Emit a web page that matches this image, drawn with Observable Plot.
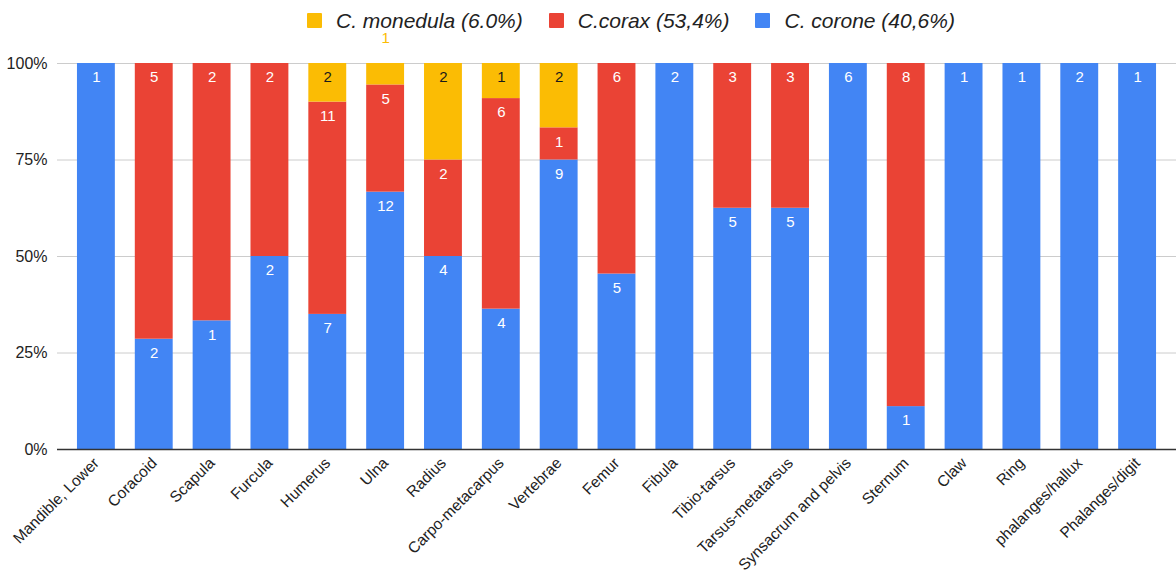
<!DOCTYPE html>
<html>
<head>
<meta charset="utf-8">
<script src="https://cdn.jsdelivr.net/npm/d3@7"></script>
<script src="https://cdn.jsdelivr.net/npm/@observablehq/plot@0.6"></script>
<style>
  html, body { margin: 0; padding: 0; background: #fff; }
  body { width: 1176px; height: 575px; overflow: hidden; font-family: "Liberation Sans", Arial, sans-serif; }
  #legend {
    box-sizing: border-box; height: 30px; padding-top: 11px;
    display: flex; justify-content: flex-start; align-items: center;
    padding-left: 307px; line-height: 20px;
    font-size: 21px; font-style: italic; color: #222;
  }
  #legend .item { display: flex; align-items: center; margin-right: 26px; }
  #legend .sw { width: 15px; height: 15px; border-radius: 1px; margin-right: 14px; }
  #chart svg { display: block; }
</style>
</head>
<body>
<div id="legend"></div>
<div id="chart"></div>
<script>
// Skeletal elements, one bar each
const parts = [
  "Mandible, Lower", "Coracoid", "Scapula", "Furcula", "Humerus", "Ulna", "Radius",
  "Carpo-metacarpus", "Vertebrae", "Femur", "Fibula", "Tibio-tarsus", "Tarsus-metatarsus",
  "Synsacrum and pelvis", "Sternum", "Claw", "Ring", "phalanges/hallux", "Phalanges/digit"
];

// Fragment counts per species, aligned with parts
const corone   = [1, 2, 1, 2, 7, 12, 4, 4, 9, 5, 2, 5, 5, 6, 1, 1, 1, 2, 1];
const corax    = [0, 5, 2, 2, 11, 5, 2, 6, 1, 6, 0, 3, 3, 0, 8, 0, 0, 0, 0];
const monedula = [0, 0, 0, 0, 2, 1, 2, 1, 2, 0, 0, 0, 0, 0, 0, 0, 0, 0, 0];

// Series names (stack order, bottom to top) and legend labels
const species = ["C. corone", "C.corax", "C. monedula"];
const legendLabels = ["C. monedula (6.0%)", "C.corax (53,4%)", "C. corone (40,6%)"];
const legendOrder = ["C. monedula", "C.corax", "C. corone"];
const colors = ["#4285F4", "#EA4335", "#FBBC04"];

// Y axis ticks
const yTicks = [0, 0.25, 0.5, 0.75, 1];
const yTickLabels = ["0%", "25%", "50%", "75%", "100%"];

// Long table for the stack transform
const series = [corone, corax, monedula];
const rows = [];
parts.forEach((p, i) => {
  const total = corone[i] + corax[i] + monedula[i];
  species.forEach((s, k) => {
    const v = series[k][i];
    if (v > 0) rows.push({part: p, species: s, count: v, share: v / total});
  });
});

// Legend
const legend = document.getElementById("legend");
legendOrder.forEach((s, j) => {
  const item = document.createElement("div");
  item.className = "item";
  const sw = document.createElement("div");
  sw.className = "sw";
  sw.style.background = colors[species.indexOf(s)];
  const label = document.createElement("span");
  label.textContent = legendLabels[j];
  item.appendChild(sw);
  item.appendChild(label);
  legend.appendChild(item);
});

const stackOpts = {x: "part", y: "count", z: "species", order: species, offset: "normalize"};
const minShare = 0.07; // segments thinner than this get their label above the bar
const yFormat = (d) => yTickLabels[yTicks.indexOf(d)];

const chart = Plot.plot({
  width: 1176,
  height: 545,
  marginTop: 33,
  marginBottom: 126,
  marginLeft: 57,
  marginRight: 0,
  style: {fontFamily: "'Liberation Sans', Arial, sans-serif", fontSize: "15.5px", color: "#333", background: "#fff"},
  x: {domain: parts, padding: 0.345, round: false, label: null},
  y: {domain: [0, 1], label: null},
  color: {domain: species, range: colors},
  marks: [
    Plot.gridY(yTicks.slice(1), {stroke: "#cccccc", strokeOpacity: 1, strokeWidth: 1}),
    Plot.barY(rows, Plot.stackY({...stackOpts, fill: "species"})),
    Plot.ruleY([0], {stroke: "#333333", strokeWidth: 1.5}),
    // labels inside the segments
    Plot.text(rows, Plot.stackY2({
      ...stackOpts,
      text: (d) => d.share >= minShare ? String(d.count) : null,
      fill: (d) => d.species === "C. monedula" ? "#1a1a1a" : "#ffffff",
      dy: 14, fontSize: 15
    })),
    // labels for thin segments, drawn above the bar
    Plot.text(rows, Plot.stackY2({
      ...stackOpts,
      text: (d) => d.share < minShare ? String(d.count) : null,
      fill: (d) => colors[species.indexOf(d.species)],
      dy: -25, fontSize: 15
    })),
    Plot.axisX({tickRotate: -45, tickSize: 0, tickPadding: 11, fontSize: 15.5, fill: "#222", label: null}),
    Plot.axisY({ticks: yTicks, tickFormat: yFormat, tickSize: 0, tickPadding: 10, fontSize: 16, fill: "#222", label: null})
  ]
});
document.getElementById("chart").appendChild(chart);
</script>
</body>
</html>
